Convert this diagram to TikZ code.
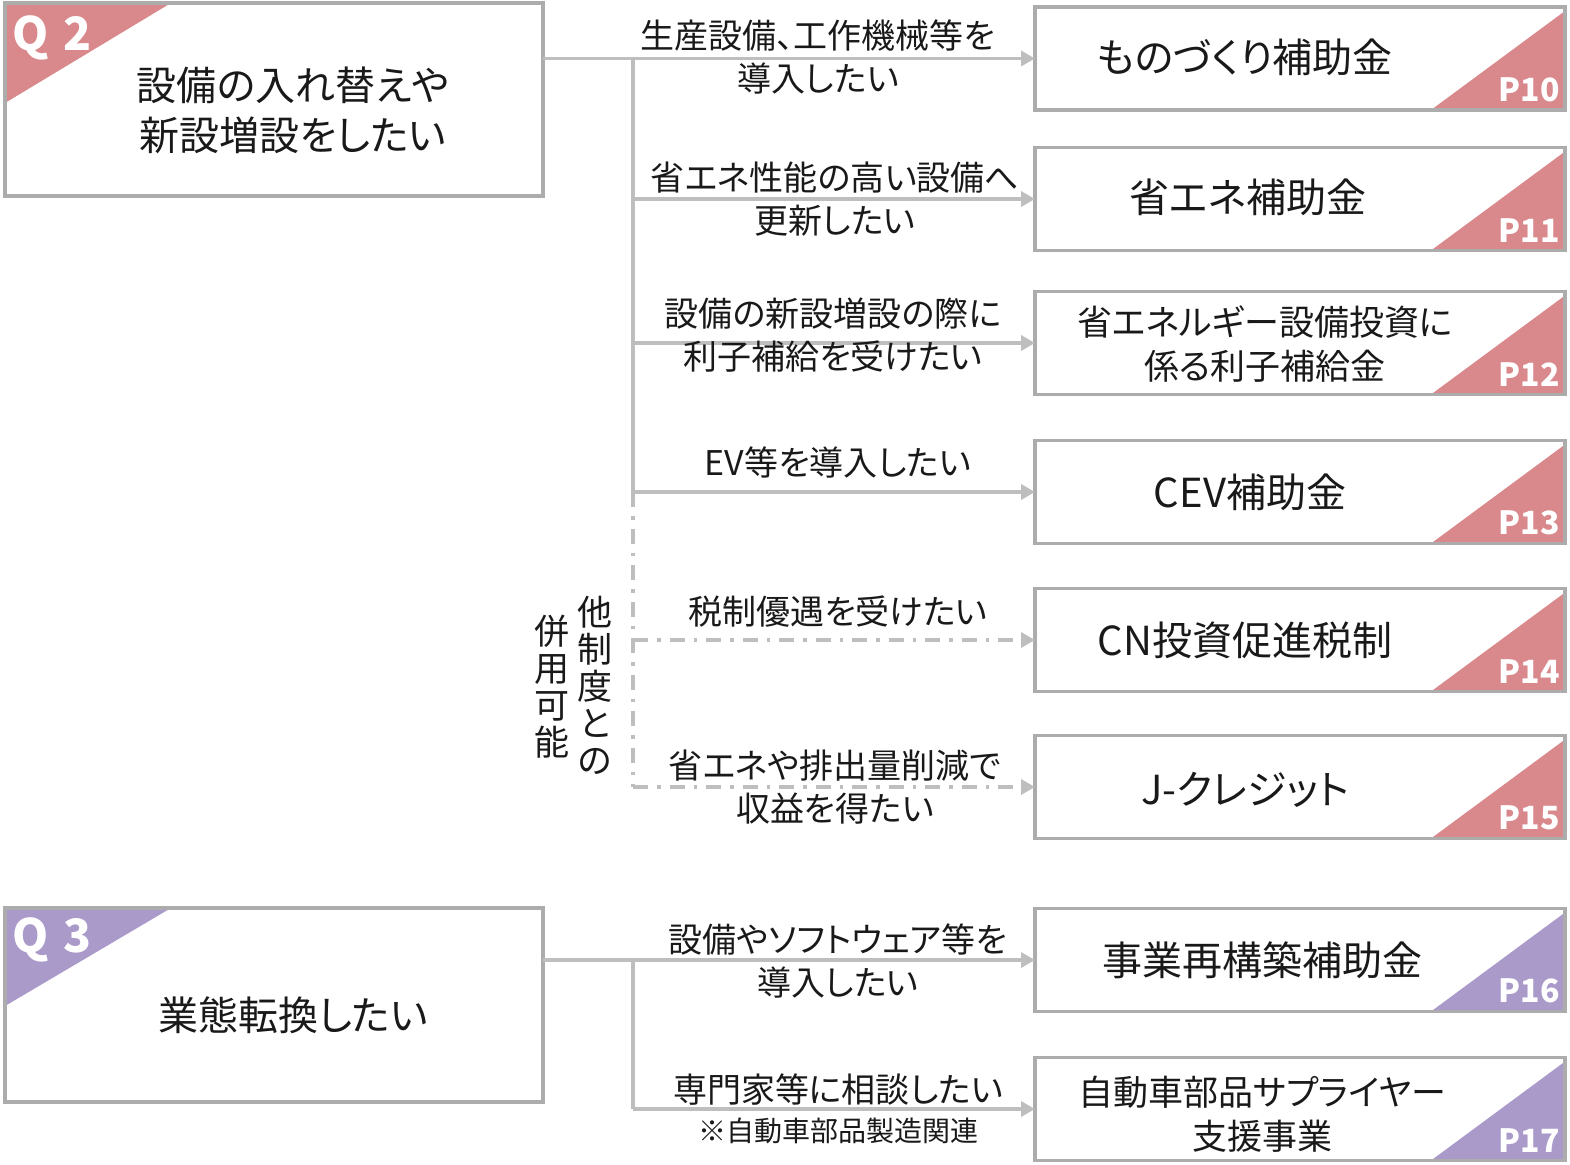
\documentclass[tikz,border=0pt]{standalone}
\usepackage{fontspec}
\setmainfont{Noto Sans CJK JP}[RawFeature=+palt]
\usetikzlibrary{arrows.meta}
\definecolor{boxgray}{RGB}{172,172,172}
\definecolor{linegray}{RGB}{190,190,190}
\definecolor{qtwo}{RGB}{217,136,140}
\definecolor{qthree}{RGB}{170,154,202}
\definecolor{txt}{RGB}{25,25,25}
\begin{document}
\begin{tikzpicture}[x=1pt,y=-1pt,
  qbox/.style={draw=boxgray,line width=3.5pt,minimum width=538pt,inner sep=0,outer sep=0},
  rbox/.style={draw=boxgray,line width=3.5pt,minimum width=530pt,minimum height=103pt,inner sep=0,outer sep=0},
  conn/.style={draw=linegray,line width=3.5pt},
  arr/.style={conn,-{Triangle[length=14pt,width=15pt]}},
  dd/.style={conn,dash pattern=on 15pt off 9pt on 3.5pt off 9pt},
  qtext/.style={font=\fontsize{40}{50}\selectfont,align=center,text=txt,inner sep=0},
  ttl/.style={font=\fontsize{40}{46}\selectfont,align=center,text=txt,inner sep=0},
  ttlb/.style={font=\fontsize{35}{44}\selectfont,align=center,text=txt,inner sep=0},
  lab/.style={font=\fontsize{34}{43}\selectfont,align=center,text=txt,inner sep=0},
  note/.style={font=\fontsize{28}{32}\selectfont,align=center,text=txt,inner sep=0},
  vert/.style={font=\fontsize{35}{37}\selectfont,align=center,text=txt,inner sep=0},
  ptag/.style={font=\fontsize{32}{32}\selectfont\bfseries,text=white,inner sep=0},
  qtag/.style={font=\fontsize{46}{46}\selectfont\bfseries,text=white,inner sep=0},
]
\useasboundingbox (0,0) rectangle (1570,1164);

% question boxes
\node[qbox,minimum height=193pt] (q2) at (274,99.5) {};
\fill[qtwo] (q2.north west) -- ([xshift=166pt]q2.north west) -- ([yshift=-100pt]q2.north west) -- cycle;
\draw[boxgray,line width=3.5pt] (q2.south west) rectangle (q2.north east);
\node[qtag] (q2tag) at (52,38) {Q\,\,2};
\node[qtext] (q2t) at (293,110) {設備の入れ替えや\\新設増設をしたい};

\node[qbox,minimum height=194pt] (q3) at (274,1005) {};
\fill[qthree] (q3.north west) -- ([xshift=166pt]q3.north west) -- ([yshift=-98pt]q3.north west) -- cycle;
\draw[boxgray,line width=3.5pt] (q3.south west) rectangle (q3.north east);
\node[qtag] (q3tag) at (52,940) {Q\,\,3};
\node[qtext] (q3t) at (293,1015) {業態転換したい};

% result boxes
\foreach \n/\y/\c/\p in {r1/58.5/qtwo/P10, r2/199/qtwo/P11, r3/343/qtwo/P12, r4/492/qtwo/P13, r5/640/qtwo/P14, r6/787/qtwo/P15, r7/960/qthree/P16, r8/1109/qthree/P17}{
  \node[rbox] (\n) at (1300,\y) {};
  \fill[\c] (\n.south east) -- ([xshift=-134pt]\n.south east) -- ([yshift=-4pt]\n.north east) -- cycle;
  \draw[boxgray,line width=3.5pt] (\n.south west) rectangle (\n.north east);
  \node[ptag,anchor=south east] (\n p) at ([xshift=-5pt,yshift=8pt]\n.south east) {\p};
}
\node[ttl] (t1) at (1245,57) {ものづくり補助金};
\node[ttl] (t2) at (1248,197) {省エネ補助金};
\node[ttlb] (t3) at (1265,344) {省エネルギー設備投資に\\係る利子補給金};
\node[ttl] (t4) at (1250,492) {CEV補助金};
\node[ttl] (t5) at (1245,640) {CN投資促進税制};
\node[ttl] (t6) at (1245,790) {J-クレジット};
\node[ttl] (t7) at (1262,960) {事業再構築補助金};
\node[ttlb] (t8) at (1262,1114) {自動車部品サプライヤー\\支援事業};

% connectors Q2
\coordinate (tk2) at (633,60);
\draw[arr] (q2.east |- r1.west) -- (r1.west);
\draw[conn] (tk2 |- r1.west) -- (tk2 |- r4.west);
\draw[arr] (tk2 |- r2.west) -- (r2.west);
\draw[arr] (tk2 |- r3.west) -- (r3.west);
\draw[arr] (tk2 |- r4.west) -- (r4.west);
\draw[dd] (tk2 |- r4.west) -- (tk2 |- r6.west);
\draw[dd,-{Triangle[length=14pt,width=15pt]}] (tk2 |- r5.west) -- (r5.west);
\draw[dd,-{Triangle[length=14pt,width=15pt]}] (tk2 |- r6.west) -- (r6.west);

% connectors Q3
\coordinate (tk3) at (633,960);
\draw[arr] (q3.east |- r7.west) -- (r7.west);
\draw[conn] (tk3 |- r7.west) -- (tk3 |- r8.west);
\draw[arr] (tk3 |- r8.west) -- (r8.west);

% labels
\node[lab] (l1) at (818,57) {生産設備、工作機械等を\\導入したい};
\node[lab] (l2) at (835,199) {省エネ性能の高い設備へ\\更新したい};
\node[lab] (l3) at (833,335) {設備の新設増設の際に\\利子補給を受けたい};
\node[lab] (l4) at (838,462) {EV等を導入したい};
\node[lab] (l5) at (838,612) {税制優遇を受けたい};
\node[lab] (l6) at (835,787) {省エネや排出量削減で\\収益を得たい};
\node[lab] (l7) at (838,961) {設備やソフトウェア等を\\導入したい};
\node[lab] (l8) at (838,1090) {専門家等に相談したい};
\node[note] (l8n) at (838,1131) {※自動車部品製造関連};

% vertical note
\node[vert] (v1) at (595,685) {他\\制\\度\\と\\の};
\node[vert] (v2) at (552,687) {併\\用\\可\\能};
\end{tikzpicture}
\end{document}
